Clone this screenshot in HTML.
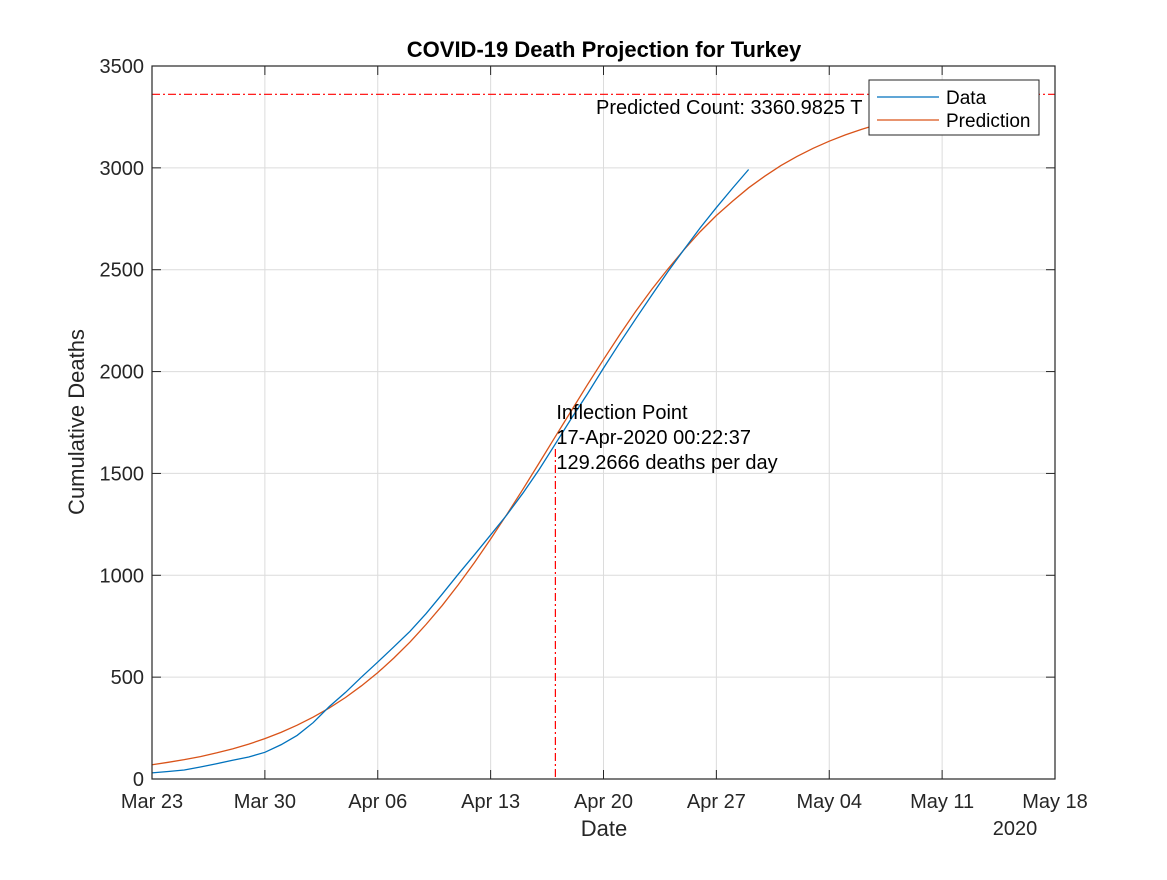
<!DOCTYPE html>
<html><head><meta charset="utf-8"><style>
body{margin:0;background:#fff;font-family:"Liberation Sans",Arial,sans-serif}
svg text{font-family:"Liberation Sans",Arial,sans-serif}
</style></head><body>
<svg id="chart" width="1167" height="875" xmlns="http://www.w3.org/2000/svg">
<rect width="1167" height="875" fill="#fff"/>
<g id="grid"></g>
<g id="series"></g>
<g id="axes"></g>
</svg>
<script>
const xTickLabels=["Mar 23","Mar 30","Apr 06","Apr 13","Apr 20","Apr 27","May 04","May 11","May 18"];
const yTickValues=[0,500,1000,1500,2000,2500,3000,3500];
const dataValues=[30,37,44,59,75,92,108,131,168,214,277,356,425,501,574,649,725,812,908,1006,1101,1198,1296,1403,1518,1643,1769,1890,2017,2140,2259,2376,2491,2600,2706,2805,2900,2992];
const predValues=[70,82,95,110,128,148,171,198,229,264,304,349,400,458,522,594,672,759,852,954,1063,1178,1298,1422,1550,1679,1807,1935,2059,2180,2296,2404,2504,2599,2687,2766,2836,2902,2959,3011,3056,3096,3131,3162,3189,3213,3233,3250,3265,3278,3289,3298,3306];
const predictedCount=3360.9825;
const inflectionDay=25.016;
const inflectionValue=1620;

const L=152,R=1055,T=66,B=779,xMax=56,yMax=3500;
const sx=d=>L+(R-L)*d/xMax;
const sy=v=>B-(B-T)*v/yMax;
const NS="http://www.w3.org/2000/svg";
function mk(tag,attrs,parent,txt){const e=document.createElementNS(NS,tag);for(const k in attrs)e.setAttribute(k,attrs[k]);if(txt!==undefined)e.textContent=txt;parent.appendChild(e);return e;}
const grid=document.getElementById('grid'),series=document.getElementById('series'),axes=document.getElementById('axes');

xTickLabels.forEach((lab,i)=>{const x=sx(i*7);
 const g=mk('line',{x1:x,x2:x,y1:T,y2:B,stroke:'#dcdcdc','stroke-width':1},grid);
 
 
 mk('line',{x1:x,x2:x,y1:B,y2:B-9,stroke:'#262626'},axes);
 mk('line',{x1:x,x2:x,y1:T,y2:T+9,stroke:'#262626'},axes);
 const t=mk('text',{x:x,y:B+29,'text-anchor':'middle','font-size':20,fill:'#262626'},axes,lab);
 
 
});
yTickValues.forEach(v=>{const y=sy(v);
 const g=mk('line',{x1:L,x2:R,y1:y,y2:y,stroke:'#dcdcdc','stroke-width':1},grid);
 
 
 mk('line',{x1:L,x2:L+9,y1:y,y2:y,stroke:'#262626'},axes);
 mk('line',{x1:R,x2:R-9,y1:y,y2:y,stroke:'#262626'},axes);
 const t=mk('text',{x:L-8,y:y+7,'text-anchor':'end','font-size':20,fill:'#262626'},axes,String(v));
 
 
});

const pp=predValues.map((v,i)=>sx(i)+','+sy(v)).join(' ');
const pl=mk('polyline',{points:pp,fill:'none',stroke:'#d95319','stroke-width':1.3},series);


const dp=dataValues.map((v,i)=>sx(i)+','+sy(v)).join(' ');
const dl=mk('polyline',{points:dp,fill:'none',stroke:'#0072bd','stroke-width':1.3},series);



const hl=mk('line',{x1:L,x2:R,y1:sy(predictedCount),y2:sy(predictedCount),stroke:'#ff0000','stroke-width':1.2,'stroke-dasharray':'8,3,2,3'},series);


const ix=sx(inflectionDay);
const vl=mk('line',{x1:ix,x2:ix,y1:sy(inflectionValue),y2:B,stroke:'#ff0000','stroke-width':1.2,'stroke-dasharray':'8,3,2,3'},series);



const pt=mk('text',{x:596,y:114,'font-size':20,fill:'#000'},series,'Predicted Count: '+predictedCount.toFixed(4)+' T');


const it=['Inflection Point','17-Apr-2020 00:22:37','129.2666 deaths per day'];
it.forEach((s,i)=>{const t=mk('text',{x:ix+1,y:419+i*25,'font-size':20,fill:'#000'},series,s);
 
 });

const box=mk('rect',{x:L,y:T,width:R-L,height:B-T,fill:'none',stroke:'#262626','stroke-width':1.2},axes);



const title=mk('text',{x:604,y:57,'text-anchor':'middle','font-size':22,'font-weight':'bold',fill:'#000'},axes,'COVID-19 Death Projection for Turkey');


const xt=mk('text',{x:604,y:836,'text-anchor':'middle','font-size':22,fill:'#262626'},axes,'Date');


const yr=mk('text',{x:1015,y:835,'text-anchor':'middle','font-size':20,fill:'#262626'},axes,'2020');


const yt=mk('text',{x:84,y:422,'text-anchor':'middle','font-size':22,fill:'#262626',transform:'rotate(-90 84 422)'},axes,'Cumulative Deaths');



const lg=mk('g',{},axes);


mk('rect',{x:869,y:80,width:170,height:55,fill:'#fff',stroke:'#262626','stroke-width':1},lg);
mk('line',{x1:877,x2:939,y1:97,y2:97,stroke:'#0072bd','stroke-width':1.3},lg);
mk('line',{x1:877,x2:939,y1:120,y2:120,stroke:'#d95319','stroke-width':1.3},lg);
const l1=mk('text',{x:946,y:104,'font-size':19,fill:'#000'},lg,'Data');


const l2=mk('text',{x:946,y:127,'font-size':19,fill:'#000'},lg,'Prediction');


</script>
</body></html>
